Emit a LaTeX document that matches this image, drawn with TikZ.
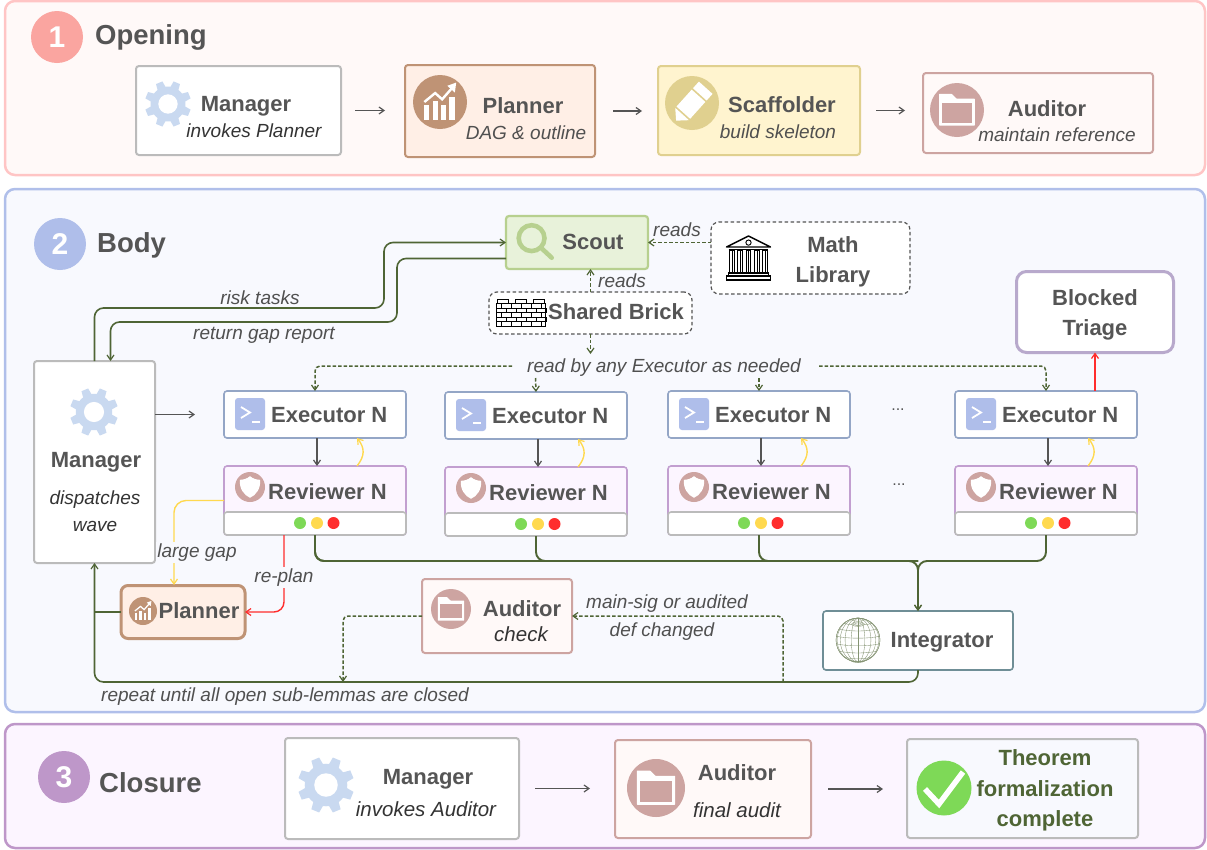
\documentclass[tikz,border=0pt]{standalone}
\usepackage{fontspec}
\setmainfont{Liberation Sans}
\usetikzlibrary{arrows.meta,calc}
\definecolor{txt}{HTML}{555555}
\definecolor{itx}{HTML}{505050}
\definecolor{itd}{HTML}{333333}
\definecolor{olive}{HTML}{4F6535}
\definecolor{arrowc}{HTML}{555555}
\definecolor{gearc}{HTML}{C9D9F0}
\definecolor{grayb}{HTML}{BBBBBB}
\definecolor{plane}{HTML}{BF9375}
\definecolor{planf}{HTML}{FFEFE6}
\definecolor{scafe}{HTML}{E0D08F}
\definecolor{scaff}{HTML}{FFF4CF}
\definecolor{audte}{HTML}{CDA4A1}
\definecolor{audtf}{HTML}{FFF9F8}
\definecolor{sonef}{HTML}{FFF9F8}
\definecolor{sonee}{HTML}{FFC5C5}
\definecolor{stwof}{HTML}{F8F9FE}
\definecolor{stwoe}{HTML}{B0BFEA}
\definecolor{sthrf}{HTML}{FCF5FF}
\definecolor{sthre}{HTML}{BE97C9}
\definecolor{numone}{HTML}{FAA5A0}
\definecolor{scoutf}{HTML}{E8F2DA}
\definecolor{scoute}{HTML}{B7D08F}
\definecolor{exee}{HTML}{94A6C6}
\definecolor{exeicon}{HTML}{AFBEEA}
\definecolor{reve}{HTML}{C29FD0}
\definecolor{greenl}{HTML}{7ED957}
\definecolor{yell}{HTML}{FFD94F}
\definecolor{redl}{HTML}{FF2D2D}
\definecolor{blocke}{HTML}{B8A9CC}
\definecolor{integ}{HTML}{6F8E96}
\definecolor{dashb}{HTML}{555555}
\tikzset{
  x=1pt,y=-1pt,
  panel/.style={draw,rounded corners=10pt,line width=2.5pt,inner sep=0,outer sep=0},
  bx/.style={draw,rounded corners=3pt,line width=2pt,inner sep=0,outer sep=0},
  mgrbox/.style={bx,draw=grayb,fill=white},
  planbox/.style={bx,draw=plane,fill=planf},
  scafbox/.style={bx,draw=scafe,fill=scaff},
  audbox/.style={bx,draw=audte,fill=audtf},
  exebox/.style={bx,draw=exee,fill=white,line width=1.6pt},
  revbox/.style={bx,draw=reve,fill=sthrf,line width=1.6pt},
  footbox/.style={bx,draw=grayb,fill=white,line width=1.6pt},
  dashbox/.style={draw=dashb,fill=white,rounded corners=8pt,line width=1.2pt,dash pattern=on 3.5pt off 2.5pt,inner sep=0,outer sep=0},
  numc/.style={circle,inner sep=0,outer sep=0,minimum size=52pt,text=white,font=\bfseries\fontsize{30}{32}\selectfont},
  ttl/.style={anchor=west,inner sep=0,text=txt,font=\bfseries\fontsize{27.5}{30}\selectfont,text height=19.5pt,text depth=0pt},
  nm/.style={inner sep=0,text=txt,font=\bfseries\fontsize{22}{25}\selectfont,text height=15pt,text depth=0pt},
  it/.style={inner sep=0,text=itx,font=\itshape\fontsize{19}{22}\selectfont,text height=13.5pt,text depth=0pt},
  itk/.style={it,text=itd},
  itb/.style={itk,font=\itshape\fontsize{20.5}{24}\selectfont,text height=14.5pt},
  lbl/.style={it},
  lblbg/.style={lbl,fill=stwof,inner sep=1.5pt,text height=14pt,text depth=4pt},
  tipb/.tip={Straight Barb[length=5pt,width=7pt,line width=1.2pt]},
  flow/.style={draw=arrowc,line width=1.4pt,-{tipb}},
  olv/.style={draw=olive,line width=1.6pt,rounded corners=9pt},
  olvd/.style={draw=olive,line width=1.5pt,rounded corners=5pt,dash pattern=on 3.5pt off 2pt},
  busl/.style={olv,line width=1.9pt},
}
% gear
\newcommand{\icongear}[4][white]{\begin{scope}[shift={(#2,#3)},scale=#4]
 \fill[gearc] (0,0) circle(.76);
 \foreach \a in {0,45,...,315}{\fill[gearc,rotate=\a+22.5] (-.19,-.7) -- (-.15,-1) -- (.15,-1) -- (.19,-.7) -- cycle;}
 \fill[#1] (0,0) circle(.42);
\end{scope}}
\newcommand{\iconchart}[3]{\begin{scope}[shift={(#1,#2)},scale=#3]
 \fill[plane] (0,0) circle(1);
 \fill[white] (-.58,.12) rectangle (-.4,.66);
 \fill[white] (-.27,-.02) rectangle (-.09,.66);
 \fill[white] (.04,.12) rectangle (.22,.66);
 \fill[white] (.35,-.2) rectangle (.55,.66);
 \draw[white,line width=#3*.09pt] (-.58,.0) -- (-.18,-.33) -- (.08,-.1) -- (.5,-.58);
 \fill[white] (.6,-.72) -- (.27,-.6) -- (.55,-.35) -- cycle;
\end{scope}}
\newcommand{\iconpencil}[3]{\begin{scope}[shift={(#1,#2)},scale=#3]
 \fill[scafe] (0,0) circle(1);
 \begin{scope}[rotate=48,yscale=1]
 \fill[white] (-.88,0) -- (-.55,-.34) -- (-.55,.34) -- cycle;
 \fill[white] (-.48,-.34) rectangle (.36,.34);
 \fill[white] (.43,-.34) rectangle (.76,.34);
 \end{scope}
\end{scope}}
\newcommand{\iconfolder}[3]{\begin{scope}[shift={(#1,#2)},scale=#3]
 \fill[audte] (0,0) circle(1);
 \fill[white,rounded corners=.5pt] (-.66,-.6) -- (-.2,-.6) -- (-.02,-.42) -- (.66,-.42) -- (.66,.58) -- (-.66,.58) -- cycle;
 \fill[audte] (-.55,-.25) rectangle (.55,.47);
\end{scope}}
\newcommand{\iconterm}[2]{\begin{scope}[shift={(#1,#2)}]
 \fill[exeicon,rounded corners=3pt] (0,0) rectangle (30,32);
 \draw[white,line width=1.8pt] (6,9) -- (15,14.5) -- (6,20);
 \draw[white,line width=1.8pt] (17,24) -- (25,24);
\end{scope}}
\newcommand{\iconshield}[3]{\begin{scope}[shift={(#1,#2)},scale=#3]
 \fill[audte] (0,0) circle(1);
 \fill[white] (0,-.72) .. controls (-.2,-.55) and (-.45,-.48) .. (-.68,-.48) .. controls (-.72,.1) and (-.4,.55) .. (0,.72) .. controls (.4,.55) and (.72,.1) .. (.68,-.48) .. controls (.45,-.48) and (.2,-.55) .. (0,-.72) -- cycle;
\end{scope}}
\newcommand{\iconmag}[3]{\begin{scope}[shift={(#1,#2)},scale=#3]
 \draw[scoute,line width=#3*.24pt] (-.18,-.15) circle(.68);
 \draw[scoute,line width=#3*.24pt,line cap=round] (.32,.36) -- (.88,.88);
\end{scope}}
\newcommand{\iconbrick}[2]{\begin{scope}[shift={(#1,#2)}]
 \fill[white] (0,2) rectangle (49,27);
 \draw[black,line width=.9pt] (0,4.5) rectangle (49,27);
 \foreach \y in {9,13.5,18,22.5}{\draw[black,line width=.9pt] (0,\y) -- (49,\y);}
 \foreach \yy/\oo in {4.5/0,9/5,13.5/0,18/5,22.5/0}{\foreach \xx in {0,10,...,40}{\pgfmathsetmacro\vx{\xx+\oo+5}\draw[black,line width=.8pt] (\vx,\yy) -- ++(0,4.5);}}
 \draw[black,line width=.9pt,fill=white] (1,0) rectangle (12,4.5);
 \draw[black,line width=.9pt,fill=white] (19,0) rectangle (30,4.5);
 \draw[black,line width=.9pt,fill=white] (37,0) rectangle (48,4.5);
\end{scope}}
\newcommand{\iconlib}[3]{\begin{scope}[shift={(#1,#2)},scale=#3]
 \draw[black,line width=1.4pt,line join=round,fill=white] (-1,-.5) -- (0,-1) -- (1,-.5) -- cycle;
 \draw[black,line width=.9pt] (0,-.7) circle(.12);
 \draw[black,line width=1.3pt] (-.9,-.38) -- (.9,-.38);
 \foreach \c in {-.75,-.38,0,.38,.75}{\draw[black,line width=.9pt,fill=white] (\c-.1,-.34) rectangle (\c+.1,.66);
 \draw[black,line width=.6pt] (\c,-.3) -- (\c,.62);}
 \draw[black,line width=1.1pt,fill=white] (-.9,.68) rectangle (.9,.8);
 \draw[black,line width=1.2pt,fill=white] (-1,.82) rectangle (1,1);
\end{scope}}
\newcommand{\iconglobe}[3]{\begin{scope}[shift={(#1,#2)},scale=#3,draw=olive!70!white,line width=.35pt]
 \fill[white] (0,0) circle(1);
 \draw (0,0) circle(1);
 \foreach \l in {0,18,36,54,72,88}{\pgfmathsetmacro\rr{sin(\l)}\draw (0,0) ellipse[x radius=\rr,y radius=1];}
 \foreach \p in {-70,-50,-30,-10,10,30,50,70}{\pgfmathsetmacro\cy{-sin(\p)}\pgfmathsetmacro\rr{cos(\p)}
   \draw (-\rr,\cy) .. controls (-\rr*.5,\cy+.12) and (\rr*.5,\cy+.12) .. (\rr,\cy);}
 \draw (0,-.72) ellipse[x radius=.3,y radius=.1];
 \draw (0,-.72) ellipse[x radius=.16,y radius=.06];
\end{scope}}
\newcommand{\lights}[2]{
 \fill[greenl] (#1-17,#2) circle(6);
 \fill[yell] (#1,#2) circle(6);
 \fill[redl] (#1+16.5,#2) circle(6);}
% executor/reviewer column: name, left, executor top, reviewer top
\newcommand{\execcol}[4]{
 \pgfmathsetmacro\cx{#2+91}
 \node[exebox,minimum width=182pt,minimum height=47pt] (e#1) at (\cx,#3+23.5) {};
 \iconterm{#2+11}{#3+7}
 \node[nm,anchor=west] (et#1) at (#2+47,#3+23.5) {Executor N};
 \node[revbox,minimum width=182pt,minimum height=69pt] (r#1) at (\cx,#4+34.5) {};
 \node[footbox,minimum width=182pt,minimum height=23pt] (f#1) at (\cx,#4+57.5) {};
 \iconshield{#2+26}{#4+21}{15}
 \node[nm,anchor=west] (rt#1) at (#2+44,#4+25.5) {Reviewer N};
 \pgfmathsetmacro\lx{#2+93}
 \lights{\lx}{#4+57}
 \draw[flow] ([xshift=2pt]e#1.south) -- ([xshift=2pt]r#1.north);
 \draw[draw=yell,line width=1.4pt,-{tipb}] ([xshift=42pt]r#1.north) .. controls ([xshift=50pt,yshift=10pt]r#1.north) and ([xshift=50pt,yshift=-10pt]e#1.south) .. ([xshift=42pt]e#1.south);
}
\begin{document}
\begin{tikzpicture}
\useasboundingbox (0,0) rectangle (1207,849);
% ---- panels
\node[panel,draw=sonee,fill=sonef,minimum width=1200pt,minimum height=174pt] (s1) at (605,88) {};
\node[panel,draw=stwoe,fill=stwof,minimum width=1200pt,minimum height=523pt] (s2) at (605,450.5) {};
\node[panel,draw=sthre,fill=sthrf,minimum width=1200pt,minimum height=124pt] (s3) at (605,786) {};
% ---- section 1
\node[numc,fill=numone] (n1) at (57,37) {1};
\node[ttl] (t1) at (95,35) {Opening};
\node[mgrbox,minimum width=205pt,minimum height=89pt] (a1) at (238.5,110.5) {};
\icongear{168}{104}{23}
\node[nm] (a1t) at (246,104) {Manager};
\node[itk] (a1s) at (254,131) {invokes Planner};
\node[planbox,minimum width=190pt,minimum height=92pt] (a2) at (500,111) {};
\iconchart{440}{102}{27}
\node[nm] (a2t) at (523,106) {Planner};
\node[it] (a2s) at (526,133) {DAG \& outline};
\node[scafbox,minimum width=202pt,minimum height=89pt] (a3) at (759,110.5) {};
\iconpencil{692}{103}{27}
\node[nm] (a3t) at (782,105) {Scaffolder};
\node[it] (a3s) at (778,132) {build skeleton};
\node[audbox,minimum width=230pt,minimum height=80pt] (a4) at (1038,113) {};
\iconfolder{957}{110}{27}
\node[nm] (a4t) at (1047,109) {Auditor};
\node[it] (a4s) at (1057,135) {maintain reference};
\draw[flow,shorten <=14pt,shorten >=20pt] (a1.east) -- (a2.west |- a1.east);
\draw[flow,shorten <=18pt,shorten >=16pt] (a2.east) -- (a3.west |- a2.east);
\draw[flow,shorten <=16pt,shorten >=18pt] (a3.east) -- (a4.west |- a3.east);
% ---- section 2
\node[numc,fill=exeicon] (n2) at (60,244) {2};
\node[ttl] (t2) at (97,243) {Body};
\node[bx,draw=scoute,fill=scoutf,minimum width=142pt,minimum height=53pt,line width=2.2pt] (scout) at (577,242.5) {};
\iconmag{535}{241}{19}
\node[nm] (scoutt) at (593,242) {Scout};
\node[dashbox,minimum width=199pt,minimum height=72pt] (lib) at (810.5,258) {};
\iconlib{748.5}{258}{22}
\node[nm] (libt1) at (833,245) {Math};
\node[nm] (libt2) at (833,275) {Library};
\node[dashbox,minimum width=203pt,minimum height=42pt] (sb) at (590.5,313) {};
\iconbrick{496}{299}
\node[nm] (sbt) at (616,312) {Shared Brick};
\node[bx,draw=blocke,fill=white,rounded corners=10pt,line width=3pt,minimum width=157pt,minimum height=81pt] (blocked) at (1095,312) {};
\node[nm] (bt1) at (1095,298) {Blocked};
\node[nm] (bt2) at (1095,328) {Triage};
\node[mgrbox,minimum width=121pt,minimum height=202pt] (m2) at (94.5,462) {};
\icongear{94}{412}{24}
\node[nm] (m2t) at (96,460) {Manager};
\node[itk] (m2s1) at (95,498) {dispatches};
\node[itk] (m2s2) at (95,525) {wave};
\execcol{1}{224}{391}{466}
\execcol{2}{445}{392}{467}
\execcol{3}{668}{391}{466}
\execcol{4}{955}{391}{466}
\node[inner sep=0,text=txt,font=\fontsize{16}{18}\selectfont] (dots1) at (898,410) {...};
\node[inner sep=0,text=txt,font=\fontsize{16}{18}\selectfont] (dots2) at (899,485) {...};
\node[planbox,line width=3pt,rounded corners=7pt,minimum width=124pt,minimum height=53pt] (pl) at (183,612) {};
\iconchart{143}{611}{14}
\node[nm] (plt) at (199,611) {Planner};
\node[audbox,minimum width=150pt,minimum height=74pt] (ac) at (497,616) {};
\iconfolder{451}{609}{20}
\node[nm] (act) at (522,609) {Auditor};
\node[itb] (acs) at (521,634) {check};
\node[bx,draw=integ,fill=white,minimum width=190pt,minimum height=59pt,line width=1.6pt] (int) at (918,640.5) {};
\iconglobe{858}{640}{22}
\node[nm] (intt) at (942,640) {Integrator};
% coordinates
\coordinate (busj) at (918,561);
\coordinate (loopb) at (918,682);
\coordinate (loopc) at (94.5,682);
\coordinate (acdrop) at (343,682);
\coordinate (loopr) at (783,682);
\coordinate (rdtop) at (590.5,354);
\coordinate (rdl) at (512,366);
\coordinate (rdr) at (819,366);
\coordinate (rdm2) at (535.5,378);
\coordinate (rdm3) at (759,378);
\coordinate (disp) at (195,414.5);
% connectors
\draw[flow] (m2.east |- e1.west) -- (disp);
\draw[olv,-{tipb}] (m2.north) -- (94.5,308) -- (384,308) -- (384,242.5) -- (scout.west);
\draw[olv,-{tipb}] ([yshift=-16pt]scout.west) -- (397,258.5) -- (397,322) -- (110.5,322) -- ([xshift=16pt]m2.north);
\draw[olvd,-{tipb}] (scout.east -| lib.west) -- (scout.east);
\draw[olvd,-{tipb}] (sb.north) -- (sb.north |- scout.south);
\draw[olvd,-{tipb}] (sb.south) -- (rdtop);
\draw[olvd,-{tipb}] (rdl) -| (e1.north);
\draw[olvd,-{tipb}] (rdr) -| (e4.north);
\draw[olvd,-{tipb}] (rdm2) -- (e2.north);
\draw[olvd,-{tipb}] (rdm3) -- (e3.north);
\draw[draw=redl,line width=1.4pt,-{tipb}] (e4.north -| blocked.south) -- (blocked.south);
\draw[busl] (f1.south) |- (busj);
\draw[busl] (f2.south) |- (busj);
\draw[busl] (f3.south) |- (busj);
\draw[busl,-{tipb}] (f1.south) |- (busj) -- (int.north);
\draw[busl,-{tipb}] (f4.south) |- (busj) -- (int.north);
\draw[olv,-{tipb}] (int.south) -- (loopb) -- (loopc) -- (m2.south);
\draw[olv] (pl.west) -- (pl.west -| m2.south);
\draw[olvd,-{tipb}] (ac.west) -| (acdrop);
\draw[olvd,-{tipb}] (loopr) |- (ac.east);
\draw[draw=yell,line width=1.4pt,rounded corners=12pt,-{tipb}] (r1.west) -- (174,500.5) -- (174,585);
\draw[draw=redl,line width=1.4pt,rounded corners=10pt,-{tipb}] ([xshift=-31pt]f1.south) -- (284,612) -- (pl.east);
% labels
\node[lbl] (l1) at (677,230) {reads};
\node[lbl] (l2) at (622,281) {reads};
\node[lbl] (l3) at (664,366) {read by any Executor as needed};
\node[lbl] (l4) at (260,298) {risk tasks};
\node[lbl] (l5) at (264,333) {return gap report};
\node[lblbg] (l6) at (197,552) {large gap};
\node[lblbg] (l7) at (284,577) {re-plan};
\node[lbl] (l8) at (667,602) {main-sig or audited};
\node[lbl] (l9) at (662,630) {def changed};
\node[lbl] (l10) at (285,695) {repeat until all open sub-lemmas are closed};
% ---- section 3
\node[numc,fill=sthre] (n3) at (64,777) {3};
\node[ttl] (t3) at (99,783) {Closure};
\node[mgrbox,minimum width=234pt,minimum height=101pt] (c1) at (402,788.5) {};
\icongear{326}{785}{28}
\node[nm] (c1t) at (428,777) {Manager};
\node[itb] (c1s) at (426,809) {invokes Auditor};
\node[audbox,minimum width=196pt,minimum height=98pt] (c2) at (713,789) {};
\iconfolder{656}{788}{29}
\node[nm] (c2t) at (737,773) {Auditor};
\node[itb] (c2s) at (737,810) {final audit};
\node[mgrbox,fill=stwof,minimum width=231pt,minimum height=99pt] (c3) at (1022.5,788.5) {};
\fill[greenl] (944,788) circle(27.5);
\draw[white,line width=5.5pt] (925,789) -- (939,804) -- (963,772);
\node[nm,text=olive] (c3a) at (1045,758) {Theorem};
\node[nm,text=olive] (c3b) at (1045,789) {formalization};
\node[nm,text=olive] (c3c) at (1045,819) {complete};
\draw[flow,shorten <=16pt,shorten >=25pt] (c1.east) -- (c2.west |- c1.east);
\draw[flow,shorten <=17pt,shorten >=24pt] (c2.east) -- (c3.west |- c2.east);
\end{tikzpicture}
\end{document}
